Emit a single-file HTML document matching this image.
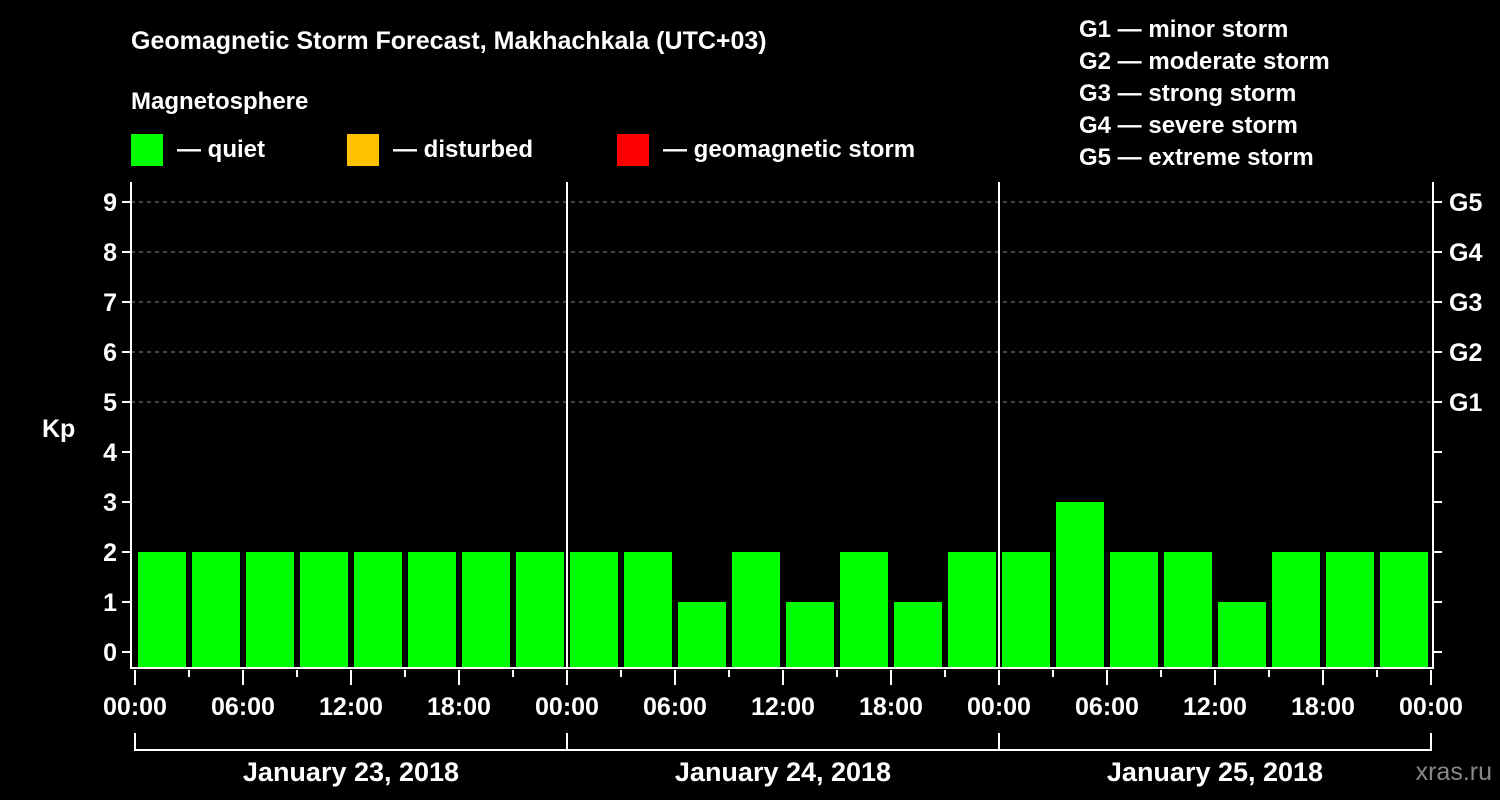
<!DOCTYPE html>
<html><head><meta charset="utf-8"><style>
body{margin:0;background:#000;}
svg{display:block;font-family:"Liberation Sans",sans-serif;font-weight:bold;}
</style></head><body>
<svg id="c" width="1500" height="800" viewBox="0 0 1500 800">
<rect width="1500" height="800" fill="#000"/>
<text x="131" y="49" fill="#fff" font-size="25">Geomagnetic Storm Forecast, Makhachkala (UTC+03)</text>
<text x="131" y="109" fill="#fff" font-size="24">Magnetosphere</text>
<g>
<rect x="131" y="134" width="32" height="32" fill="#00ff00"/>
<text x="177" y="157" fill="#fff" font-size="24">— quiet</text>
<rect x="347" y="134" width="32" height="32" fill="#ffc000"/>
<text x="393" y="157" fill="#fff" font-size="24">— disturbed</text>
<rect x="617" y="134" width="32" height="32" fill="#ff0000"/>
<text x="663" y="157" fill="#fff" font-size="24">— geomagnetic storm</text>
</g>
<g fill="#fff" font-size="24">
<text x="1079" y="37">G1 — minor storm</text>
<text x="1079" y="69">G2 — moderate storm</text>
<text x="1079" y="101">G3 — strong storm</text>
<text x="1079" y="133">G4 — severe storm</text>
<text x="1079" y="165">G5 — extreme storm</text>
</g>
<text x="42" y="437" fill="#fff" font-size="25">Kp</text>
<text x="1492" y="780" fill="#888" font-size="25" text-anchor="end" font-weight="normal">xras.ru</text>
<g id="plot"></g>
</svg>
<script>
const kpValues=[2,2,2,2,2,2,2,2, 2,2,1,2,1,2,1,2, 2,3,2,2,1,2,2,2];
const hourLabels=["00:00","06:00","12:00","18:00"];
const dayLabels=["January 23, 2018","January 24, 2018","January 25, 2018"];
const yTicks=[0,1,2,3,4,5,6,7,8,9];
const gLabels=["G1","G2","G3","G4","G5"];
const gLevels=[5,6,7,8,9];

const NS="http://www.w3.org/2000/svg";
const g=document.getElementById('plot');
const L=131,R=1433,T=182,B=668,X0=135,HOUR=18;
const y=v=>652-v*50;
const x=h=>X0+h*HOUR;
function mk(tag,a,parent){const e=document.createElementNS(NS,tag);for(const k in a)e.setAttribute(k,a[k]);(parent||g).appendChild(e);return e;}
function col(v){return v>=5?'#ff0000':v>=4?'#ffc000':'#00ff00';}
// grid
gLevels.forEach(v=>{
 const l=mk('line',{x1:L,x2:R,y1:y(v),y2:y(v),stroke:'#888','stroke-dasharray':'4,4','stroke-width':1});
 
 
});
// bars
kpValues.forEach((v,i)=>{
 const cx=x(3*i+1.5);
 const r=mk('rect',{x:cx-24,y:y(v),width:48,height:B-1-y(v),fill:col(v)});
 
 
});
// day separators
for(let d=1;d<dayLabels.length;d++){
 const l=mk('line',{x1:x(24*d),x2:x(24*d),y1:T,y2:B,stroke:'#fff','stroke-width':2});
 
 
}
// frame
const f=mk('path',{d:`M${L} ${T}V${B}H${R}V${T}`,fill:'none',stroke:'#fff','stroke-width':2});


// y ticks
yTicks.forEach(v=>{
 mk('line',{x1:L-9,x2:L,y1:y(v),y2:y(v),stroke:'#fff','stroke-width':2});
 mk('line',{x1:R,x2:R+9,y1:y(v),y2:y(v),stroke:'#fff','stroke-width':2});
 const t=mk('text',{x:L-14,y:y(v)+9,fill:'#fff','font-size':25,'text-anchor':'end'});
 t.textContent=v;
 
 
});
gLabels.forEach((s,i)=>{
 const t=mk('text',{x:1449,y:y(gLevels[i])+9,fill:'#fff','font-size':25});
 t.textContent=s;
 
 
});
// x ticks
const nd=dayLabels.length;
for(let h=0;h<=24*nd;h+=3){
 const major=h%6===0;
 mk('line',{x1:x(h),x2:x(h),y1:B+2,y2:major?B+17:B+9,stroke:'#fff','stroke-width':2});
 if(major){
  const t=mk('text',{x:x(h),y:715,fill:'#fff','font-size':25,'text-anchor':'middle'});
  t.textContent=hourLabels[(h/6)%4];
  
  
 }
}
// day brackets
mk('path',{d:`M${x(0)} 733V750H${x(24*nd)}V733`,fill:'none',stroke:'#fff','stroke-width':2});
dayLabels.forEach((s,d)=>{
 mk('line',{x1:x(24*d),x2:x(24*d),y1:733,y2:750,stroke:'#fff','stroke-width':2});
 const t=mk('text',{x:x(24*d+12),y:781,fill:'#fff','font-size':27,'text-anchor':'middle'});
 t.textContent=s;
 
 
});
</script>
</body></html>
